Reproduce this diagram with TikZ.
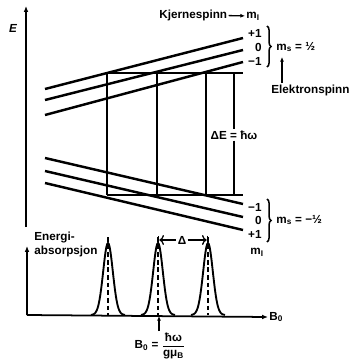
\documentclass[tikz,border=0pt]{standalone}
\usepackage{fontspec}
\setmainfont{Liberation Sans}
\usepackage{amsmath}
\usetikzlibrary{arrows.meta,decorations.pathreplacing}

\begin{document}
\begin{tikzpicture}[x=0.3mm,y=-0.3mm,
  lvl/.style={line width=2.1pt},
  trans/.style={line width=1.5pt},
  ax/.style={line width=1.5pt},
  lab/.style={font=\bfseries,inner sep=1pt},
  brc/.style={line width=1.3pt,decorate,decoration={brace,amplitude=3.5pt}},
  pil/.style={line width=1.1pt,-{Latex[length=4pt,width=3.5pt]}},
  peak/.style={line width=1.6pt},
  mid/.style={line width=1.8pt,dash pattern=on 4pt off 2.5pt}]
\useasboundingbox (0,0) rectangle (351,362);
\draw[ax,-{Latex[length=5pt,width=4pt]}] (26,227) -- (26,6);
\node[lab] (E) at (13,28) {\itshape E};
\foreach \a/\b in {89/38,100/50,115/62,158/204,171/217,183/230}
  \draw[lvl] (45,\a) -- (243,\b);
\draw[trans] (107,73) -- (243,73);
\draw[trans] (107,195) -- (243,195);
\foreach \x in {107,157,206} \draw[trans] (\x,73) -- (\x,195);
\node[lab] (dE) at (234,135) {ΔE = ħω};
\coordinate (dEtop) at (234,73); \coordinate (dEbot) at (234,195);
\draw[trans] (dEtop) -- (dE.north -| dEtop);
\draw[trans] (dE.south -| dEbot) -- (dEbot);
\node[lab,anchor=west] (kjerne) at (158,15) {Kjernespinn};
\node[lab,anchor=west] (mItop) at (245,16) {m\textsubscript{I}};
\draw[pil] (kjerne) -- (mItop);
\node[lab,anchor=east] (up1) at (263,33) {+1};
\node[lab,anchor=east] (up0) at (263,47) {0};
\node[lab,anchor=east] (upm) at (263,61) {−1};
\draw[brc] (267,26) -- (267,67);
\node[lab,anchor=west] (msup) at (275,47) {m\textsubscript{s} = ½};
\node[lab,anchor=west] (elektron) at (270,90) {Elektronspinn};
\coordinate (msfoot) at (282,57);
\draw[pil] (elektron.north -| msfoot) -- (msfoot);
\node[lab,anchor=east] (lom) at (263,207) {−1};
\node[lab,anchor=east] (lo0) at (263,220) {0};
\node[lab,anchor=east] (lo1) at (263,234) {+1};
\draw[brc] (267,199) -- (267,242);
\node[lab,anchor=west] (msdn) at (275,220) {m\textsubscript{s} = −½};
\node[lab] (mIlow) at (257,252) {m\textsubscript{I}};
\node[lab,anchor=north west,align=left] (absorp) at (33,231) {Energi-\\absorpsjon};
\coordinate (o) at (27,315);
\node[lab,anchor=west] (B0) at (268,317) {B\textsubscript{0}};
\draw[ax,-{Latex[length=5pt,width=4pt]}] (o) -- (27,246);
\draw[ax,-{Latex[length=5pt,width=4pt]}] (o) -- (B0.west);
\foreach \c in {108,158,208}{
  \draw[peak] plot[domain=-17:17,samples=41] ({\c+\x},{315-72*exp(-(\x/6.8)^2)});
  \draw[mid] (\c,237) -- (\c,315);
}
\node[lab] (delta) at (182,240) {Δ};
\coordinate (p2) at (158,240); \coordinate (p3) at (208,240);
\draw[line width=1.1pt,|<-] (p2) -- (delta);
\draw[line width=1.1pt,->|] (delta) -- (p3);
\node[lab] (res) at (160,346) {B\textsubscript{0} = $\dfrac{\text{ħω}}{\text{gμ\textsubscript{B}}}$};
\coordinate (hit) at (159,316);
\draw[pil] (res.north -| hit) -- (hit);
\end{tikzpicture}
\end{document}
